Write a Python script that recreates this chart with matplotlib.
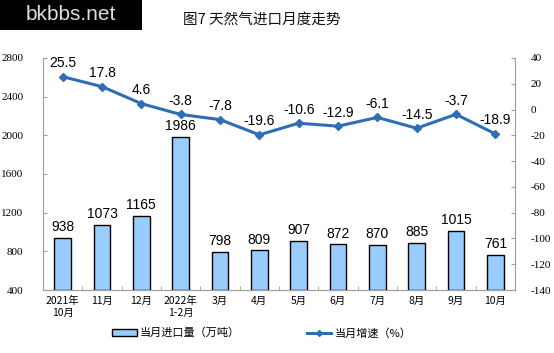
import matplotlib
matplotlib.use("Agg")
import matplotlib.pyplot as plt
from matplotlib.patches import Patch, Rectangle
from matplotlib.lines import Line2D

categories = ["2021年\n10月", "11月", "12月", "2022年\n1-2月", "3月", "4月", "5月", "6月", "7月", "8月", "9月", "10月"]
volume = [938, 1073, 1165, 1986, 798, 809, 907, 872, 870, 885, 1015, 761]
growth = [25.5, 17.8, 4.6, -3.8, -7.8, -19.6, -10.6, -12.9, -6.1, -14.5, -3.7, -18.9]
left_ticks = [400, 800, 1200, 1600, 2000, 2400, 2800]
right_ticks = [-140, -120, -100, -80, -60, -40, -20, 0, 20, 40]

cjk = ["Noto Sans CJK SC", "DejaVu Sans"]
serif = ["Liberation Serif"]
sans = ["Liberation Sans"]
plt.rcParams['font.family'] = cjk

W, H = 554, 353
fig = plt.figure(figsize=(W/100, H/100), dpi=100)
ax = fig.add_axes([43/W, 1-290/H, (515-43)/W, (290-58)/H])
ax2 = ax.twinx()

x = list(range(len(categories)))
bar_color = "#99CCFF"
line_color = "#2F6EB5"
spine_color = "#A0A0A0"

ax.bar(x, [v - 400 for v in volume], bottom=400, width=0.42, color=bar_color, edgecolor="black", linewidth=1.0, zorder=2)
for xi, v in zip(x, volume):
    ax.text(xi, v + 40, str(v), ha="center", va="bottom", fontsize=10, family=sans, color="black")

ax.set_ylim(400, 2800)
ax.set_yticks(left_ticks)
ax.set_yticklabels([str(t) for t in left_ticks], family=serif, fontsize=8)
ax.set_xlim(-0.5, len(categories) - 0.5)
ax.set_xticks(x)
ax.set_xticklabels(categories, fontsize=7.5, linespacing=1.3)
ax.set_xticks([i + 0.5 for i in range(len(categories) - 1)], minor=True)
ax.tick_params(axis="x", which="major", length=0, pad=4)
ax.tick_params(axis="x", which="minor", length=3, direction="in", color=spine_color)
ax.tick_params(axis="y", direction="in", length=3, color=spine_color, pad=14)

ax2.plot(x, growth, color=line_color, linewidth=2.2, marker="D", markersize=4, zorder=3)
for xi, g in zip(x, growth):
    ax2.text(xi, g + 5, f"{g}", ha="center", va="bottom", fontsize=10, family=sans, color="black")
ax2.set_ylim(-140, 40)
ax2.set_yticks(right_ticks)
ax2.set_yticklabels([str(t) for t in right_ticks], family=serif, fontsize=8)
ax2.tick_params(axis="y", direction="in", length=3, color=spine_color, pad=11)

for a in (ax, ax2):
    a.spines["top"].set_visible(False)
    for s in ("left", "right", "bottom"):
        a.spines[s].set_color(spine_color)
        a.spines[s].set_linewidth(0.8)

fig.text(262/W, 1-20/H, "图7 天然气进口月度走势", ha="center", va="center", fontsize=10.5, color="#111111")
fig.patches.append(Rectangle((0, 1-30/H), 142/W, 30/H, transform=fig.transFigure, facecolor="black", edgecolor="none"))
fig.text(71/W, 1-15/H, "bkbbs.net", ha="center", va="center", fontsize=15, family=sans, color="#DDDDDD")

handles = [Patch(facecolor=bar_color, edgecolor="black", linewidth=1.0),
           Line2D([0], [0], color=line_color, linewidth=2.2, marker="D", markersize=3)]
labels = ["当月进口量（万吨）", "当月增速（%）"]
fig.legend(handles, labels, loc="center", bbox_to_anchor=(262/W, 1-333/H), ncol=2, frameon=False,
           fontsize=8, columnspacing=6, handlelength=2.2, handleheight=0.5, handletextpad=0.3)

fig.savefig("out.png", dpi=100)
